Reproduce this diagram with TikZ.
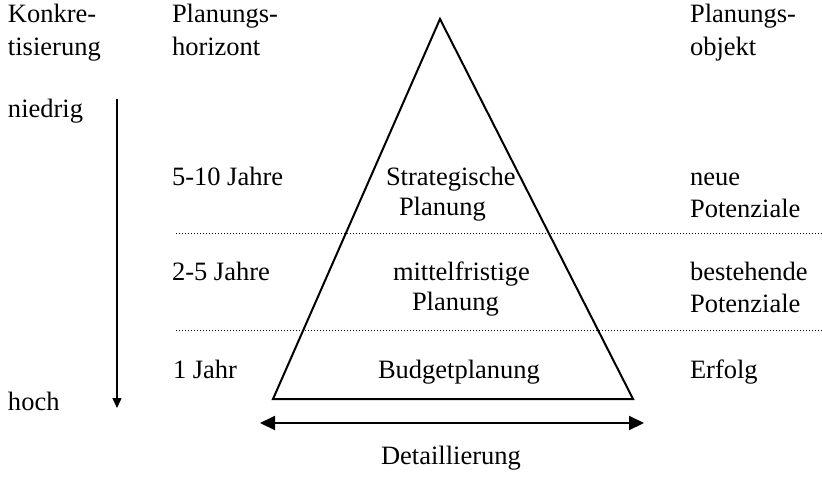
\documentclass[tikz,border=0pt]{standalone}
\usepackage{fontspec}
\setmainfont{Liberation Serif}
\usetikzlibrary{arrows.meta}
\begin{document}
\begin{tikzpicture}[x=0.5pt,y=-0.5pt,
  lbl/.style={anchor=base west,inner sep=0pt,outer sep=0pt,font=\fontsize{13.25}{16}\selectfont},
  dotline/.style={line width=0.5pt,dash pattern=on 0.5pt off 1pt},
  tri/.style={line width=1pt,line join=miter},
  bigarrow/.style={line width=1pt,{Triangle[length=7.5pt,width=7pt]}-{Triangle[length=7.5pt,width=7pt]}},
  smallarrow/.style={line width=0.75pt,-{Triangle[length=5pt,width=4.5pt]}}]
\useasboundingbox (0,0) rectangle (822,481);
% headers
\node[lbl] (k1) at (8,23) {Konkre-};
\node[lbl] (k2) at (8,55) {tisierung};
\node[lbl] (h1) at (172,23) {Planungs-};
\node[lbl] (h2) at (172,55) {horizont};
\node[lbl] (o1) at (690,23) {Planungs-};
\node[lbl] (o2) at (690,55) {objekt};
% left
\node[lbl] (nied) at (8,117) {niedrig};
\node[lbl] (hoch) at (8,410) {hoch};
\coordinate (va) at (117,99);
\coordinate (vb) at (117,408);
\draw[smallarrow] (va) -- (vb);
% horizons
\node[lbl] (j1) at (172,185) {5-10 Jahre};
\node[lbl] (j2) at (172,280) {2-5 Jahre};
\node[lbl] (j3) at (173,378) {1 Jahr};
% objects
\node[lbl] (p1a) at (690,185) {neue};
\node[lbl] (p1b) at (690,217) {Potenziale};
\node[lbl] (p2a) at (690,280) {bestehende};
\node[lbl] (p2b) at (690,312) {Potenziale};
\node[lbl] (p3) at (690,378) {Erfolg};
% triangle
\coordinate (apex) at (440,19);
\coordinate (bl) at (273,399);
\coordinate (br) at (633,399);
\draw[tri] (apex) -- (bl) -- (br) -- cycle;
% levels
\node[lbl] (s1) at (386,185) {Strategische};
\node[lbl] (s2) at (399,215) {Planung};
\node[lbl] (m1) at (393,280) {mittelfristige};
\node[lbl] (m2) at (412,310) {Planung};
\node[lbl] (b1) at (378,378) {Budgetplanung};
% dotted separators
\coordinate (d1a) at (176,233);
\coordinate (d1b) at (822,233);
\coordinate (d2a) at (176,330);
\coordinate (d2b) at (822,330);
\draw[dotline] (d1a) -- (d1b);
\draw[dotline] (d2a) -- (d2b);
% detail arrow
\coordinate (da) at (260,423);
\coordinate (db) at (644,423);
\draw[bigarrow] (da) -- (db);
\node[lbl] (det) at (381,464) {Detaillierung};
\end{tikzpicture}
\end{document}
